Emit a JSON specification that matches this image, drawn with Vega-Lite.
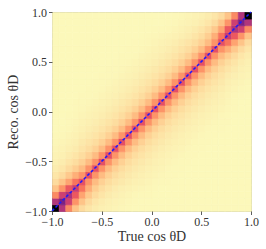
{
"$schema": "https://vega.github.io/schema/vega-lite/v6.json",
"width": 199, "height": 199,
"autosize": {"type": "none"},
"padding": {"left": 52, "top": 12, "right": 15, "bottom": 38},
"background": "white",
"config": {
 "view": {"stroke": "#9a9a9a", "strokeWidth": 1},
 "font": "Liberation Serif",
 "axis": {"domain": false, "grid": false, "tickColor": "#333", "tickSize": 3.5, "tickWidth": 0.8, "labelFont": "Liberation Serif", "labelFontSize": 12, "labelColor": "#333", "labelPadding": 2, "labelOverlap": false, "labelFlush": false, "labelBound": false, "titleFont": "Liberation Serif", "titleFontSize": 14, "titleFontWeight": "normal", "titleColor": "#333"}
},
"layer": [
{
"data": {"values": [
{"x":-1,"y":-1,"v":1},{"x":-0.9333,"y":-1,"v":0.46},{"x":-0.8667,"y":-1,"v":0.22},{"x":-0.8,"y":-1,"v":0.11},{"x":-0.7333,"y":-1,"v":0.065},{"x":-0.6667,"y":-1,"v":0.045},{"x":-0.6,"y":-1,"v":0.033},{"x":-0.5333,"y":-1,"v":0.025},{"x":-0.4667,"y":-1,"v":0.02},{"x":-0.4,"y":-1,"v":0.016},{"x":-0.3333,"y":-1,"v":0.013},{"x":-0.2667,"y":-1,"v":0.011},{"x":-0.2,"y":-1,"v":0.01},{"x":-0.1333,"y":-1,"v":0.01},{"x":-0.0667,"y":-1,"v":0.01},{"x":0,"y":-1,"v":0.01},{"x":0.0667,"y":-1,"v":0.01},{"x":0.1333,"y":-1,"v":0.01},{"x":0.2,"y":-1,"v":0.01},{"x":0.2667,"y":-1,"v":0.01},{"x":0.3333,"y":-1,"v":0.01},{"x":0.4,"y":-1,"v":0.01},{"x":0.4667,"y":-1,"v":0.01},{"x":0.5333,"y":-1,"v":0.01},{"x":0.6,"y":-1,"v":0.01},{"x":0.6667,"y":-1,"v":0.01},{"x":0.7333,"y":-1,"v":0.01},{"x":0.8,"y":-1,"v":0.01},{"x":0.8667,"y":-1,"v":0.01},{"x":0.9333,"y":-1,"v":0.01},
{"x":-1,"y":-0.9333,"v":0.46},{"x":-0.9333,"y":-0.9333,"v":0.58},{"x":-0.8667,"y":-0.9333,"v":0.4},{"x":-0.8,"y":-0.9333,"v":0.2},{"x":-0.7333,"y":-0.9333,"v":0.11},{"x":-0.6667,"y":-0.9333,"v":0.065},{"x":-0.6,"y":-0.9333,"v":0.045},{"x":-0.5333,"y":-0.9333,"v":0.033},{"x":-0.4667,"y":-0.9333,"v":0.025},{"x":-0.4,"y":-0.9333,"v":0.02},{"x":-0.3333,"y":-0.9333,"v":0.016},{"x":-0.2667,"y":-0.9333,"v":0.013},{"x":-0.2,"y":-0.9333,"v":0.011},{"x":-0.1333,"y":-0.9333,"v":0.01},{"x":-0.0667,"y":-0.9333,"v":0.01},{"x":0,"y":-0.9333,"v":0.01},{"x":0.0667,"y":-0.9333,"v":0.01},{"x":0.1333,"y":-0.9333,"v":0.01},{"x":0.2,"y":-0.9333,"v":0.01},{"x":0.2667,"y":-0.9333,"v":0.01},{"x":0.3333,"y":-0.9333,"v":0.01},{"x":0.4,"y":-0.9333,"v":0.01},{"x":0.4667,"y":-0.9333,"v":0.01},{"x":0.5333,"y":-0.9333,"v":0.01},{"x":0.6,"y":-0.9333,"v":0.01},{"x":0.6667,"y":-0.9333,"v":0.01},{"x":0.7333,"y":-0.9333,"v":0.01},{"x":0.8,"y":-0.9333,"v":0.01},{"x":0.8667,"y":-0.9333,"v":0.01},{"x":0.9333,"y":-0.9333,"v":0.01},
{"x":-1,"y":-0.8667,"v":0.22},{"x":-0.9333,"y":-0.8667,"v":0.4},{"x":-0.8667,"y":-0.8667,"v":0.47},{"x":-0.8,"y":-0.8667,"v":0.32},{"x":-0.7333,"y":-0.8667,"v":0.17},{"x":-0.6667,"y":-0.8667,"v":0.1},{"x":-0.6,"y":-0.8667,"v":0.065},{"x":-0.5333,"y":-0.8667,"v":0.046},{"x":-0.4667,"y":-0.8667,"v":0.034},{"x":-0.4,"y":-0.8667,"v":0.026},{"x":-0.3333,"y":-0.8667,"v":0.021},{"x":-0.2667,"y":-0.8667,"v":0.017},{"x":-0.2,"y":-0.8667,"v":0.014},{"x":-0.1333,"y":-0.8667,"v":0.012},{"x":-0.0667,"y":-0.8667,"v":0.011},{"x":0,"y":-0.8667,"v":0.01},{"x":0.0667,"y":-0.8667,"v":0.01},{"x":0.1333,"y":-0.8667,"v":0.01},{"x":0.2,"y":-0.8667,"v":0.01},{"x":0.2667,"y":-0.8667,"v":0.01},{"x":0.3333,"y":-0.8667,"v":0.01},{"x":0.4,"y":-0.8667,"v":0.01},{"x":0.4667,"y":-0.8667,"v":0.01},{"x":0.5333,"y":-0.8667,"v":0.01},{"x":0.6,"y":-0.8667,"v":0.01},{"x":0.6667,"y":-0.8667,"v":0.01},{"x":0.7333,"y":-0.8667,"v":0.01},{"x":0.8,"y":-0.8667,"v":0.01},{"x":0.8667,"y":-0.8667,"v":0.01},{"x":0.9333,"y":-0.8667,"v":0.01},
{"x":-1,"y":-0.8,"v":0.11},{"x":-0.9333,"y":-0.8,"v":0.2},{"x":-0.8667,"y":-0.8,"v":0.32},{"x":-0.8,"y":-0.8,"v":0.41},{"x":-0.7333,"y":-0.8,"v":0.26},{"x":-0.6667,"y":-0.8,"v":0.15},{"x":-0.6,"y":-0.8,"v":0.09},{"x":-0.5333,"y":-0.8,"v":0.062},{"x":-0.4667,"y":-0.8,"v":0.046},{"x":-0.4,"y":-0.8,"v":0.035},{"x":-0.3333,"y":-0.8,"v":0.027},{"x":-0.2667,"y":-0.8,"v":0.022},{"x":-0.2,"y":-0.8,"v":0.018},{"x":-0.1333,"y":-0.8,"v":0.015},{"x":-0.0667,"y":-0.8,"v":0.013},{"x":0,"y":-0.8,"v":0.011},{"x":0.0667,"y":-0.8,"v":0.01},{"x":0.1333,"y":-0.8,"v":0.01},{"x":0.2,"y":-0.8,"v":0.01},{"x":0.2667,"y":-0.8,"v":0.01},{"x":0.3333,"y":-0.8,"v":0.01},{"x":0.4,"y":-0.8,"v":0.01},{"x":0.4667,"y":-0.8,"v":0.01},{"x":0.5333,"y":-0.8,"v":0.01},{"x":0.6,"y":-0.8,"v":0.01},{"x":0.6667,"y":-0.8,"v":0.01},{"x":0.7333,"y":-0.8,"v":0.01},{"x":0.8,"y":-0.8,"v":0.01},{"x":0.8667,"y":-0.8,"v":0.01},{"x":0.9333,"y":-0.8,"v":0.01},
{"x":-1,"y":-0.7333,"v":0.065},{"x":-0.9333,"y":-0.7333,"v":0.11},{"x":-0.8667,"y":-0.7333,"v":0.17},{"x":-0.8,"y":-0.7333,"v":0.26},{"x":-0.7333,"y":-0.7333,"v":0.34},{"x":-0.6667,"y":-0.7333,"v":0.2},{"x":-0.6,"y":-0.7333,"v":0.125},{"x":-0.5333,"y":-0.7333,"v":0.085},{"x":-0.4667,"y":-0.7333,"v":0.062},{"x":-0.4,"y":-0.7333,"v":0.048},{"x":-0.3333,"y":-0.7333,"v":0.038},{"x":-0.2667,"y":-0.7333,"v":0.03},{"x":-0.2,"y":-0.7333,"v":0.024},{"x":-0.1333,"y":-0.7333,"v":0.02},{"x":-0.0667,"y":-0.7333,"v":0.017},{"x":0,"y":-0.7333,"v":0.014},{"x":0.0667,"y":-0.7333,"v":0.012},{"x":0.1333,"y":-0.7333,"v":0.011},{"x":0.2,"y":-0.7333,"v":0.01},{"x":0.2667,"y":-0.7333,"v":0.01},{"x":0.3333,"y":-0.7333,"v":0.01},{"x":0.4,"y":-0.7333,"v":0.01},{"x":0.4667,"y":-0.7333,"v":0.01},{"x":0.5333,"y":-0.7333,"v":0.01},{"x":0.6,"y":-0.7333,"v":0.01},{"x":0.6667,"y":-0.7333,"v":0.01},{"x":0.7333,"y":-0.7333,"v":0.01},{"x":0.8,"y":-0.7333,"v":0.01},{"x":0.8667,"y":-0.7333,"v":0.01},{"x":0.9333,"y":-0.7333,"v":0.01},
{"x":-1,"y":-0.6667,"v":0.045},{"x":-0.9333,"y":-0.6667,"v":0.065},{"x":-0.8667,"y":-0.6667,"v":0.1},{"x":-0.8,"y":-0.6667,"v":0.15},{"x":-0.7333,"y":-0.6667,"v":0.2},{"x":-0.6667,"y":-0.6667,"v":0.34},{"x":-0.6,"y":-0.6667,"v":0.2},{"x":-0.5333,"y":-0.6667,"v":0.125},{"x":-0.4667,"y":-0.6667,"v":0.085},{"x":-0.4,"y":-0.6667,"v":0.062},{"x":-0.3333,"y":-0.6667,"v":0.048},{"x":-0.2667,"y":-0.6667,"v":0.038},{"x":-0.2,"y":-0.6667,"v":0.03},{"x":-0.1333,"y":-0.6667,"v":0.024},{"x":-0.0667,"y":-0.6667,"v":0.02},{"x":0,"y":-0.6667,"v":0.017},{"x":0.0667,"y":-0.6667,"v":0.014},{"x":0.1333,"y":-0.6667,"v":0.012},{"x":0.2,"y":-0.6667,"v":0.011},{"x":0.2667,"y":-0.6667,"v":0.01},{"x":0.3333,"y":-0.6667,"v":0.01},{"x":0.4,"y":-0.6667,"v":0.01},{"x":0.4667,"y":-0.6667,"v":0.01},{"x":0.5333,"y":-0.6667,"v":0.01},{"x":0.6,"y":-0.6667,"v":0.01},{"x":0.6667,"y":-0.6667,"v":0.01},{"x":0.7333,"y":-0.6667,"v":0.01},{"x":0.8,"y":-0.6667,"v":0.01},{"x":0.8667,"y":-0.6667,"v":0.01},{"x":0.9333,"y":-0.6667,"v":0.01},
{"x":-1,"y":-0.6,"v":0.033},{"x":-0.9333,"y":-0.6,"v":0.045},{"x":-0.8667,"y":-0.6,"v":0.065},{"x":-0.8,"y":-0.6,"v":0.09},{"x":-0.7333,"y":-0.6,"v":0.125},{"x":-0.6667,"y":-0.6,"v":0.2},{"x":-0.6,"y":-0.6,"v":0.34},{"x":-0.5333,"y":-0.6,"v":0.2},{"x":-0.4667,"y":-0.6,"v":0.125},{"x":-0.4,"y":-0.6,"v":0.085},{"x":-0.3333,"y":-0.6,"v":0.062},{"x":-0.2667,"y":-0.6,"v":0.048},{"x":-0.2,"y":-0.6,"v":0.038},{"x":-0.1333,"y":-0.6,"v":0.03},{"x":-0.0667,"y":-0.6,"v":0.024},{"x":0,"y":-0.6,"v":0.02},{"x":0.0667,"y":-0.6,"v":0.017},{"x":0.1333,"y":-0.6,"v":0.014},{"x":0.2,"y":-0.6,"v":0.012},{"x":0.2667,"y":-0.6,"v":0.011},{"x":0.3333,"y":-0.6,"v":0.01},{"x":0.4,"y":-0.6,"v":0.01},{"x":0.4667,"y":-0.6,"v":0.01},{"x":0.5333,"y":-0.6,"v":0.01},{"x":0.6,"y":-0.6,"v":0.01},{"x":0.6667,"y":-0.6,"v":0.01},{"x":0.7333,"y":-0.6,"v":0.01},{"x":0.8,"y":-0.6,"v":0.01},{"x":0.8667,"y":-0.6,"v":0.01},{"x":0.9333,"y":-0.6,"v":0.01},
{"x":-1,"y":-0.5333,"v":0.025},{"x":-0.9333,"y":-0.5333,"v":0.033},{"x":-0.8667,"y":-0.5333,"v":0.046},{"x":-0.8,"y":-0.5333,"v":0.062},{"x":-0.7333,"y":-0.5333,"v":0.085},{"x":-0.6667,"y":-0.5333,"v":0.125},{"x":-0.6,"y":-0.5333,"v":0.2},{"x":-0.5333,"y":-0.5333,"v":0.34},{"x":-0.4667,"y":-0.5333,"v":0.2},{"x":-0.4,"y":-0.5333,"v":0.125},{"x":-0.3333,"y":-0.5333,"v":0.085},{"x":-0.2667,"y":-0.5333,"v":0.062},{"x":-0.2,"y":-0.5333,"v":0.048},{"x":-0.1333,"y":-0.5333,"v":0.038},{"x":-0.0667,"y":-0.5333,"v":0.03},{"x":0,"y":-0.5333,"v":0.024},{"x":0.0667,"y":-0.5333,"v":0.02},{"x":0.1333,"y":-0.5333,"v":0.017},{"x":0.2,"y":-0.5333,"v":0.014},{"x":0.2667,"y":-0.5333,"v":0.012},{"x":0.3333,"y":-0.5333,"v":0.011},{"x":0.4,"y":-0.5333,"v":0.01},{"x":0.4667,"y":-0.5333,"v":0.01},{"x":0.5333,"y":-0.5333,"v":0.01},{"x":0.6,"y":-0.5333,"v":0.01},{"x":0.6667,"y":-0.5333,"v":0.01},{"x":0.7333,"y":-0.5333,"v":0.01},{"x":0.8,"y":-0.5333,"v":0.01},{"x":0.8667,"y":-0.5333,"v":0.01},{"x":0.9333,"y":-0.5333,"v":0.01},
{"x":-1,"y":-0.4667,"v":0.02},{"x":-0.9333,"y":-0.4667,"v":0.025},{"x":-0.8667,"y":-0.4667,"v":0.034},{"x":-0.8,"y":-0.4667,"v":0.046},{"x":-0.7333,"y":-0.4667,"v":0.062},{"x":-0.6667,"y":-0.4667,"v":0.085},{"x":-0.6,"y":-0.4667,"v":0.125},{"x":-0.5333,"y":-0.4667,"v":0.2},{"x":-0.4667,"y":-0.4667,"v":0.34},{"x":-0.4,"y":-0.4667,"v":0.2},{"x":-0.3333,"y":-0.4667,"v":0.125},{"x":-0.2667,"y":-0.4667,"v":0.085},{"x":-0.2,"y":-0.4667,"v":0.062},{"x":-0.1333,"y":-0.4667,"v":0.048},{"x":-0.0667,"y":-0.4667,"v":0.038},{"x":0,"y":-0.4667,"v":0.03},{"x":0.0667,"y":-0.4667,"v":0.024},{"x":0.1333,"y":-0.4667,"v":0.02},{"x":0.2,"y":-0.4667,"v":0.017},{"x":0.2667,"y":-0.4667,"v":0.014},{"x":0.3333,"y":-0.4667,"v":0.012},{"x":0.4,"y":-0.4667,"v":0.011},{"x":0.4667,"y":-0.4667,"v":0.01},{"x":0.5333,"y":-0.4667,"v":0.01},{"x":0.6,"y":-0.4667,"v":0.01},{"x":0.6667,"y":-0.4667,"v":0.01},{"x":0.7333,"y":-0.4667,"v":0.01},{"x":0.8,"y":-0.4667,"v":0.01},{"x":0.8667,"y":-0.4667,"v":0.01},{"x":0.9333,"y":-0.4667,"v":0.01},
{"x":-1,"y":-0.4,"v":0.016},{"x":-0.9333,"y":-0.4,"v":0.02},{"x":-0.8667,"y":-0.4,"v":0.026},{"x":-0.8,"y":-0.4,"v":0.035},{"x":-0.7333,"y":-0.4,"v":0.048},{"x":-0.6667,"y":-0.4,"v":0.062},{"x":-0.6,"y":-0.4,"v":0.085},{"x":-0.5333,"y":-0.4,"v":0.125},{"x":-0.4667,"y":-0.4,"v":0.2},{"x":-0.4,"y":-0.4,"v":0.34},{"x":-0.3333,"y":-0.4,"v":0.2},{"x":-0.2667,"y":-0.4,"v":0.125},{"x":-0.2,"y":-0.4,"v":0.085},{"x":-0.1333,"y":-0.4,"v":0.062},{"x":-0.0667,"y":-0.4,"v":0.048},{"x":0,"y":-0.4,"v":0.038},{"x":0.0667,"y":-0.4,"v":0.03},{"x":0.1333,"y":-0.4,"v":0.024},{"x":0.2,"y":-0.4,"v":0.02},{"x":0.2667,"y":-0.4,"v":0.017},{"x":0.3333,"y":-0.4,"v":0.014},{"x":0.4,"y":-0.4,"v":0.012},{"x":0.4667,"y":-0.4,"v":0.011},{"x":0.5333,"y":-0.4,"v":0.01},{"x":0.6,"y":-0.4,"v":0.01},{"x":0.6667,"y":-0.4,"v":0.01},{"x":0.7333,"y":-0.4,"v":0.01},{"x":0.8,"y":-0.4,"v":0.01},{"x":0.8667,"y":-0.4,"v":0.01},{"x":0.9333,"y":-0.4,"v":0.01},
{"x":-1,"y":-0.3333,"v":0.013},{"x":-0.9333,"y":-0.3333,"v":0.016},{"x":-0.8667,"y":-0.3333,"v":0.021},{"x":-0.8,"y":-0.3333,"v":0.027},{"x":-0.7333,"y":-0.3333,"v":0.038},{"x":-0.6667,"y":-0.3333,"v":0.048},{"x":-0.6,"y":-0.3333,"v":0.062},{"x":-0.5333,"y":-0.3333,"v":0.085},{"x":-0.4667,"y":-0.3333,"v":0.125},{"x":-0.4,"y":-0.3333,"v":0.2},{"x":-0.3333,"y":-0.3333,"v":0.34},{"x":-0.2667,"y":-0.3333,"v":0.2},{"x":-0.2,"y":-0.3333,"v":0.125},{"x":-0.1333,"y":-0.3333,"v":0.085},{"x":-0.0667,"y":-0.3333,"v":0.062},{"x":0,"y":-0.3333,"v":0.048},{"x":0.0667,"y":-0.3333,"v":0.038},{"x":0.1333,"y":-0.3333,"v":0.03},{"x":0.2,"y":-0.3333,"v":0.024},{"x":0.2667,"y":-0.3333,"v":0.02},{"x":0.3333,"y":-0.3333,"v":0.017},{"x":0.4,"y":-0.3333,"v":0.014},{"x":0.4667,"y":-0.3333,"v":0.012},{"x":0.5333,"y":-0.3333,"v":0.011},{"x":0.6,"y":-0.3333,"v":0.01},{"x":0.6667,"y":-0.3333,"v":0.01},{"x":0.7333,"y":-0.3333,"v":0.01},{"x":0.8,"y":-0.3333,"v":0.01},{"x":0.8667,"y":-0.3333,"v":0.01},{"x":0.9333,"y":-0.3333,"v":0.01},
{"x":-1,"y":-0.2667,"v":0.011},{"x":-0.9333,"y":-0.2667,"v":0.013},{"x":-0.8667,"y":-0.2667,"v":0.017},{"x":-0.8,"y":-0.2667,"v":0.022},{"x":-0.7333,"y":-0.2667,"v":0.03},{"x":-0.6667,"y":-0.2667,"v":0.038},{"x":-0.6,"y":-0.2667,"v":0.048},{"x":-0.5333,"y":-0.2667,"v":0.062},{"x":-0.4667,"y":-0.2667,"v":0.085},{"x":-0.4,"y":-0.2667,"v":0.125},{"x":-0.3333,"y":-0.2667,"v":0.2},{"x":-0.2667,"y":-0.2667,"v":0.34},{"x":-0.2,"y":-0.2667,"v":0.2},{"x":-0.1333,"y":-0.2667,"v":0.125},{"x":-0.0667,"y":-0.2667,"v":0.085},{"x":0,"y":-0.2667,"v":0.062},{"x":0.0667,"y":-0.2667,"v":0.048},{"x":0.1333,"y":-0.2667,"v":0.038},{"x":0.2,"y":-0.2667,"v":0.03},{"x":0.2667,"y":-0.2667,"v":0.024},{"x":0.3333,"y":-0.2667,"v":0.02},{"x":0.4,"y":-0.2667,"v":0.017},{"x":0.4667,"y":-0.2667,"v":0.014},{"x":0.5333,"y":-0.2667,"v":0.012},{"x":0.6,"y":-0.2667,"v":0.011},{"x":0.6667,"y":-0.2667,"v":0.01},{"x":0.7333,"y":-0.2667,"v":0.01},{"x":0.8,"y":-0.2667,"v":0.01},{"x":0.8667,"y":-0.2667,"v":0.01},{"x":0.9333,"y":-0.2667,"v":0.01},
{"x":-1,"y":-0.2,"v":0.01},{"x":-0.9333,"y":-0.2,"v":0.011},{"x":-0.8667,"y":-0.2,"v":0.014},{"x":-0.8,"y":-0.2,"v":0.018},{"x":-0.7333,"y":-0.2,"v":0.024},{"x":-0.6667,"y":-0.2,"v":0.03},{"x":-0.6,"y":-0.2,"v":0.038},{"x":-0.5333,"y":-0.2,"v":0.048},{"x":-0.4667,"y":-0.2,"v":0.062},{"x":-0.4,"y":-0.2,"v":0.085},{"x":-0.3333,"y":-0.2,"v":0.125},{"x":-0.2667,"y":-0.2,"v":0.2},{"x":-0.2,"y":-0.2,"v":0.34},{"x":-0.1333,"y":-0.2,"v":0.2},{"x":-0.0667,"y":-0.2,"v":0.125},{"x":0,"y":-0.2,"v":0.085},{"x":0.0667,"y":-0.2,"v":0.062},{"x":0.1333,"y":-0.2,"v":0.048},{"x":0.2,"y":-0.2,"v":0.038},{"x":0.2667,"y":-0.2,"v":0.03},{"x":0.3333,"y":-0.2,"v":0.024},{"x":0.4,"y":-0.2,"v":0.02},{"x":0.4667,"y":-0.2,"v":0.017},{"x":0.5333,"y":-0.2,"v":0.014},{"x":0.6,"y":-0.2,"v":0.012},{"x":0.6667,"y":-0.2,"v":0.011},{"x":0.7333,"y":-0.2,"v":0.01},{"x":0.8,"y":-0.2,"v":0.01},{"x":0.8667,"y":-0.2,"v":0.01},{"x":0.9333,"y":-0.2,"v":0.01},
{"x":-1,"y":-0.1333,"v":0.01},{"x":-0.9333,"y":-0.1333,"v":0.01},{"x":-0.8667,"y":-0.1333,"v":0.012},{"x":-0.8,"y":-0.1333,"v":0.015},{"x":-0.7333,"y":-0.1333,"v":0.02},{"x":-0.6667,"y":-0.1333,"v":0.024},{"x":-0.6,"y":-0.1333,"v":0.03},{"x":-0.5333,"y":-0.1333,"v":0.038},{"x":-0.4667,"y":-0.1333,"v":0.048},{"x":-0.4,"y":-0.1333,"v":0.062},{"x":-0.3333,"y":-0.1333,"v":0.085},{"x":-0.2667,"y":-0.1333,"v":0.125},{"x":-0.2,"y":-0.1333,"v":0.2},{"x":-0.1333,"y":-0.1333,"v":0.34},{"x":-0.0667,"y":-0.1333,"v":0.2},{"x":0,"y":-0.1333,"v":0.125},{"x":0.0667,"y":-0.1333,"v":0.085},{"x":0.1333,"y":-0.1333,"v":0.062},{"x":0.2,"y":-0.1333,"v":0.048},{"x":0.2667,"y":-0.1333,"v":0.038},{"x":0.3333,"y":-0.1333,"v":0.03},{"x":0.4,"y":-0.1333,"v":0.024},{"x":0.4667,"y":-0.1333,"v":0.02},{"x":0.5333,"y":-0.1333,"v":0.017},{"x":0.6,"y":-0.1333,"v":0.014},{"x":0.6667,"y":-0.1333,"v":0.012},{"x":0.7333,"y":-0.1333,"v":0.011},{"x":0.8,"y":-0.1333,"v":0.01},{"x":0.8667,"y":-0.1333,"v":0.01},{"x":0.9333,"y":-0.1333,"v":0.01},
{"x":-1,"y":-0.0667,"v":0.01},{"x":-0.9333,"y":-0.0667,"v":0.01},{"x":-0.8667,"y":-0.0667,"v":0.011},{"x":-0.8,"y":-0.0667,"v":0.013},{"x":-0.7333,"y":-0.0667,"v":0.017},{"x":-0.6667,"y":-0.0667,"v":0.02},{"x":-0.6,"y":-0.0667,"v":0.024},{"x":-0.5333,"y":-0.0667,"v":0.03},{"x":-0.4667,"y":-0.0667,"v":0.038},{"x":-0.4,"y":-0.0667,"v":0.048},{"x":-0.3333,"y":-0.0667,"v":0.062},{"x":-0.2667,"y":-0.0667,"v":0.085},{"x":-0.2,"y":-0.0667,"v":0.125},{"x":-0.1333,"y":-0.0667,"v":0.2},{"x":-0.0667,"y":-0.0667,"v":0.34},{"x":0,"y":-0.0667,"v":0.2},{"x":0.0667,"y":-0.0667,"v":0.125},{"x":0.1333,"y":-0.0667,"v":0.085},{"x":0.2,"y":-0.0667,"v":0.062},{"x":0.2667,"y":-0.0667,"v":0.048},{"x":0.3333,"y":-0.0667,"v":0.038},{"x":0.4,"y":-0.0667,"v":0.03},{"x":0.4667,"y":-0.0667,"v":0.024},{"x":0.5333,"y":-0.0667,"v":0.02},{"x":0.6,"y":-0.0667,"v":0.017},{"x":0.6667,"y":-0.0667,"v":0.014},{"x":0.7333,"y":-0.0667,"v":0.011},{"x":0.8,"y":-0.0667,"v":0.01},{"x":0.8667,"y":-0.0667,"v":0.01},{"x":0.9333,"y":-0.0667,"v":0.01},
{"x":-1,"y":0,"v":0.01},{"x":-0.9333,"y":0,"v":0.01},{"x":-0.8667,"y":0,"v":0.01},{"x":-0.8,"y":0,"v":0.011},{"x":-0.7333,"y":0,"v":0.014},{"x":-0.6667,"y":0,"v":0.017},{"x":-0.6,"y":0,"v":0.02},{"x":-0.5333,"y":0,"v":0.024},{"x":-0.4667,"y":0,"v":0.03},{"x":-0.4,"y":0,"v":0.038},{"x":-0.3333,"y":0,"v":0.048},{"x":-0.2667,"y":0,"v":0.062},{"x":-0.2,"y":0,"v":0.085},{"x":-0.1333,"y":0,"v":0.125},{"x":-0.0667,"y":0,"v":0.2},{"x":0,"y":0,"v":0.34},{"x":0.0667,"y":0,"v":0.2},{"x":0.1333,"y":0,"v":0.125},{"x":0.2,"y":0,"v":0.085},{"x":0.2667,"y":0,"v":0.062},{"x":0.3333,"y":0,"v":0.048},{"x":0.4,"y":0,"v":0.038},{"x":0.4667,"y":0,"v":0.03},{"x":0.5333,"y":0,"v":0.024},{"x":0.6,"y":0,"v":0.02},{"x":0.6667,"y":0,"v":0.017},{"x":0.7333,"y":0,"v":0.013},{"x":0.8,"y":0,"v":0.011},{"x":0.8667,"y":0,"v":0.01},{"x":0.9333,"y":0,"v":0.01},
{"x":-1,"y":0.0667,"v":0.01},{"x":-0.9333,"y":0.0667,"v":0.01},{"x":-0.8667,"y":0.0667,"v":0.01},{"x":-0.8,"y":0.0667,"v":0.011},{"x":-0.7333,"y":0.0667,"v":0.012},{"x":-0.6667,"y":0.0667,"v":0.014},{"x":-0.6,"y":0.0667,"v":0.017},{"x":-0.5333,"y":0.0667,"v":0.02},{"x":-0.4667,"y":0.0667,"v":0.024},{"x":-0.4,"y":0.0667,"v":0.03},{"x":-0.3333,"y":0.0667,"v":0.038},{"x":-0.2667,"y":0.0667,"v":0.048},{"x":-0.2,"y":0.0667,"v":0.062},{"x":-0.1333,"y":0.0667,"v":0.085},{"x":-0.0667,"y":0.0667,"v":0.125},{"x":0,"y":0.0667,"v":0.2},{"x":0.0667,"y":0.0667,"v":0.34},{"x":0.1333,"y":0.0667,"v":0.2},{"x":0.2,"y":0.0667,"v":0.125},{"x":0.2667,"y":0.0667,"v":0.085},{"x":0.3333,"y":0.0667,"v":0.062},{"x":0.4,"y":0.0667,"v":0.048},{"x":0.4667,"y":0.0667,"v":0.038},{"x":0.5333,"y":0.0667,"v":0.03},{"x":0.6,"y":0.0667,"v":0.024},{"x":0.6667,"y":0.0667,"v":0.02},{"x":0.7333,"y":0.0667,"v":0.015},{"x":0.8,"y":0.0667,"v":0.012},{"x":0.8667,"y":0.0667,"v":0.01},{"x":0.9333,"y":0.0667,"v":0.01},
{"x":-1,"y":0.1333,"v":0.01},{"x":-0.9333,"y":0.1333,"v":0.01},{"x":-0.8667,"y":0.1333,"v":0.01},{"x":-0.8,"y":0.1333,"v":0.01},{"x":-0.7333,"y":0.1333,"v":0.011},{"x":-0.6667,"y":0.1333,"v":0.012},{"x":-0.6,"y":0.1333,"v":0.014},{"x":-0.5333,"y":0.1333,"v":0.017},{"x":-0.4667,"y":0.1333,"v":0.02},{"x":-0.4,"y":0.1333,"v":0.024},{"x":-0.3333,"y":0.1333,"v":0.03},{"x":-0.2667,"y":0.1333,"v":0.038},{"x":-0.2,"y":0.1333,"v":0.048},{"x":-0.1333,"y":0.1333,"v":0.062},{"x":-0.0667,"y":0.1333,"v":0.085},{"x":0,"y":0.1333,"v":0.125},{"x":0.0667,"y":0.1333,"v":0.2},{"x":0.1333,"y":0.1333,"v":0.34},{"x":0.2,"y":0.1333,"v":0.2},{"x":0.2667,"y":0.1333,"v":0.125},{"x":0.3333,"y":0.1333,"v":0.085},{"x":0.4,"y":0.1333,"v":0.062},{"x":0.4667,"y":0.1333,"v":0.048},{"x":0.5333,"y":0.1333,"v":0.038},{"x":0.6,"y":0.1333,"v":0.03},{"x":0.6667,"y":0.1333,"v":0.024},{"x":0.7333,"y":0.1333,"v":0.018},{"x":0.8,"y":0.1333,"v":0.014},{"x":0.8667,"y":0.1333,"v":0.011},{"x":0.9333,"y":0.1333,"v":0.01},
{"x":-1,"y":0.2,"v":0.01},{"x":-0.9333,"y":0.2,"v":0.01},{"x":-0.8667,"y":0.2,"v":0.01},{"x":-0.8,"y":0.2,"v":0.01},{"x":-0.7333,"y":0.2,"v":0.01},{"x":-0.6667,"y":0.2,"v":0.011},{"x":-0.6,"y":0.2,"v":0.012},{"x":-0.5333,"y":0.2,"v":0.014},{"x":-0.4667,"y":0.2,"v":0.017},{"x":-0.4,"y":0.2,"v":0.02},{"x":-0.3333,"y":0.2,"v":0.024},{"x":-0.2667,"y":0.2,"v":0.03},{"x":-0.2,"y":0.2,"v":0.038},{"x":-0.1333,"y":0.2,"v":0.048},{"x":-0.0667,"y":0.2,"v":0.062},{"x":0,"y":0.2,"v":0.085},{"x":0.0667,"y":0.2,"v":0.125},{"x":0.1333,"y":0.2,"v":0.2},{"x":0.2,"y":0.2,"v":0.34},{"x":0.2667,"y":0.2,"v":0.2},{"x":0.3333,"y":0.2,"v":0.125},{"x":0.4,"y":0.2,"v":0.085},{"x":0.4667,"y":0.2,"v":0.062},{"x":0.5333,"y":0.2,"v":0.048},{"x":0.6,"y":0.2,"v":0.038},{"x":0.6667,"y":0.2,"v":0.03},{"x":0.7333,"y":0.2,"v":0.022},{"x":0.8,"y":0.2,"v":0.017},{"x":0.8667,"y":0.2,"v":0.013},{"x":0.9333,"y":0.2,"v":0.011},
{"x":-1,"y":0.2667,"v":0.01},{"x":-0.9333,"y":0.2667,"v":0.01},{"x":-0.8667,"y":0.2667,"v":0.01},{"x":-0.8,"y":0.2667,"v":0.01},{"x":-0.7333,"y":0.2667,"v":0.01},{"x":-0.6667,"y":0.2667,"v":0.01},{"x":-0.6,"y":0.2667,"v":0.011},{"x":-0.5333,"y":0.2667,"v":0.012},{"x":-0.4667,"y":0.2667,"v":0.014},{"x":-0.4,"y":0.2667,"v":0.017},{"x":-0.3333,"y":0.2667,"v":0.02},{"x":-0.2667,"y":0.2667,"v":0.024},{"x":-0.2,"y":0.2667,"v":0.03},{"x":-0.1333,"y":0.2667,"v":0.038},{"x":-0.0667,"y":0.2667,"v":0.048},{"x":0,"y":0.2667,"v":0.062},{"x":0.0667,"y":0.2667,"v":0.085},{"x":0.1333,"y":0.2667,"v":0.125},{"x":0.2,"y":0.2667,"v":0.2},{"x":0.2667,"y":0.2667,"v":0.34},{"x":0.3333,"y":0.2667,"v":0.2},{"x":0.4,"y":0.2667,"v":0.125},{"x":0.4667,"y":0.2667,"v":0.085},{"x":0.5333,"y":0.2667,"v":0.062},{"x":0.6,"y":0.2667,"v":0.048},{"x":0.6667,"y":0.2667,"v":0.038},{"x":0.7333,"y":0.2667,"v":0.027},{"x":0.8,"y":0.2667,"v":0.021},{"x":0.8667,"y":0.2667,"v":0.016},{"x":0.9333,"y":0.2667,"v":0.013},
{"x":-1,"y":0.3333,"v":0.01},{"x":-0.9333,"y":0.3333,"v":0.01},{"x":-0.8667,"y":0.3333,"v":0.01},{"x":-0.8,"y":0.3333,"v":0.01},{"x":-0.7333,"y":0.3333,"v":0.01},{"x":-0.6667,"y":0.3333,"v":0.01},{"x":-0.6,"y":0.3333,"v":0.01},{"x":-0.5333,"y":0.3333,"v":0.011},{"x":-0.4667,"y":0.3333,"v":0.012},{"x":-0.4,"y":0.3333,"v":0.014},{"x":-0.3333,"y":0.3333,"v":0.017},{"x":-0.2667,"y":0.3333,"v":0.02},{"x":-0.2,"y":0.3333,"v":0.024},{"x":-0.1333,"y":0.3333,"v":0.03},{"x":-0.0667,"y":0.3333,"v":0.038},{"x":0,"y":0.3333,"v":0.048},{"x":0.0667,"y":0.3333,"v":0.062},{"x":0.1333,"y":0.3333,"v":0.085},{"x":0.2,"y":0.3333,"v":0.125},{"x":0.2667,"y":0.3333,"v":0.2},{"x":0.3333,"y":0.3333,"v":0.34},{"x":0.4,"y":0.3333,"v":0.2},{"x":0.4667,"y":0.3333,"v":0.125},{"x":0.5333,"y":0.3333,"v":0.085},{"x":0.6,"y":0.3333,"v":0.062},{"x":0.6667,"y":0.3333,"v":0.048},{"x":0.7333,"y":0.3333,"v":0.035},{"x":0.8,"y":0.3333,"v":0.026},{"x":0.8667,"y":0.3333,"v":0.02},{"x":0.9333,"y":0.3333,"v":0.016},
{"x":-1,"y":0.4,"v":0.01},{"x":-0.9333,"y":0.4,"v":0.01},{"x":-0.8667,"y":0.4,"v":0.01},{"x":-0.8,"y":0.4,"v":0.01},{"x":-0.7333,"y":0.4,"v":0.01},{"x":-0.6667,"y":0.4,"v":0.01},{"x":-0.6,"y":0.4,"v":0.01},{"x":-0.5333,"y":0.4,"v":0.01},{"x":-0.4667,"y":0.4,"v":0.011},{"x":-0.4,"y":0.4,"v":0.012},{"x":-0.3333,"y":0.4,"v":0.014},{"x":-0.2667,"y":0.4,"v":0.017},{"x":-0.2,"y":0.4,"v":0.02},{"x":-0.1333,"y":0.4,"v":0.024},{"x":-0.0667,"y":0.4,"v":0.03},{"x":0,"y":0.4,"v":0.038},{"x":0.0667,"y":0.4,"v":0.048},{"x":0.1333,"y":0.4,"v":0.062},{"x":0.2,"y":0.4,"v":0.085},{"x":0.2667,"y":0.4,"v":0.125},{"x":0.3333,"y":0.4,"v":0.2},{"x":0.4,"y":0.4,"v":0.34},{"x":0.4667,"y":0.4,"v":0.2},{"x":0.5333,"y":0.4,"v":0.125},{"x":0.6,"y":0.4,"v":0.085},{"x":0.6667,"y":0.4,"v":0.062},{"x":0.7333,"y":0.4,"v":0.046},{"x":0.8,"y":0.4,"v":0.034},{"x":0.8667,"y":0.4,"v":0.025},{"x":0.9333,"y":0.4,"v":0.02},
{"x":-1,"y":0.4667,"v":0.01},{"x":-0.9333,"y":0.4667,"v":0.01},{"x":-0.8667,"y":0.4667,"v":0.01},{"x":-0.8,"y":0.4667,"v":0.01},{"x":-0.7333,"y":0.4667,"v":0.01},{"x":-0.6667,"y":0.4667,"v":0.01},{"x":-0.6,"y":0.4667,"v":0.01},{"x":-0.5333,"y":0.4667,"v":0.01},{"x":-0.4667,"y":0.4667,"v":0.01},{"x":-0.4,"y":0.4667,"v":0.011},{"x":-0.3333,"y":0.4667,"v":0.012},{"x":-0.2667,"y":0.4667,"v":0.014},{"x":-0.2,"y":0.4667,"v":0.017},{"x":-0.1333,"y":0.4667,"v":0.02},{"x":-0.0667,"y":0.4667,"v":0.024},{"x":0,"y":0.4667,"v":0.03},{"x":0.0667,"y":0.4667,"v":0.038},{"x":0.1333,"y":0.4667,"v":0.048},{"x":0.2,"y":0.4667,"v":0.062},{"x":0.2667,"y":0.4667,"v":0.085},{"x":0.3333,"y":0.4667,"v":0.125},{"x":0.4,"y":0.4667,"v":0.2},{"x":0.4667,"y":0.4667,"v":0.34},{"x":0.5333,"y":0.4667,"v":0.2},{"x":0.6,"y":0.4667,"v":0.125},{"x":0.6667,"y":0.4667,"v":0.085},{"x":0.7333,"y":0.4667,"v":0.062},{"x":0.8,"y":0.4667,"v":0.046},{"x":0.8667,"y":0.4667,"v":0.033},{"x":0.9333,"y":0.4667,"v":0.025},
{"x":-1,"y":0.5333,"v":0.01},{"x":-0.9333,"y":0.5333,"v":0.01},{"x":-0.8667,"y":0.5333,"v":0.01},{"x":-0.8,"y":0.5333,"v":0.01},{"x":-0.7333,"y":0.5333,"v":0.01},{"x":-0.6667,"y":0.5333,"v":0.01},{"x":-0.6,"y":0.5333,"v":0.01},{"x":-0.5333,"y":0.5333,"v":0.01},{"x":-0.4667,"y":0.5333,"v":0.01},{"x":-0.4,"y":0.5333,"v":0.01},{"x":-0.3333,"y":0.5333,"v":0.011},{"x":-0.2667,"y":0.5333,"v":0.012},{"x":-0.2,"y":0.5333,"v":0.014},{"x":-0.1333,"y":0.5333,"v":0.017},{"x":-0.0667,"y":0.5333,"v":0.02},{"x":0,"y":0.5333,"v":0.024},{"x":0.0667,"y":0.5333,"v":0.03},{"x":0.1333,"y":0.5333,"v":0.038},{"x":0.2,"y":0.5333,"v":0.048},{"x":0.2667,"y":0.5333,"v":0.062},{"x":0.3333,"y":0.5333,"v":0.085},{"x":0.4,"y":0.5333,"v":0.125},{"x":0.4667,"y":0.5333,"v":0.2},{"x":0.5333,"y":0.5333,"v":0.34},{"x":0.6,"y":0.5333,"v":0.2},{"x":0.6667,"y":0.5333,"v":0.125},{"x":0.7333,"y":0.5333,"v":0.09},{"x":0.8,"y":0.5333,"v":0.065},{"x":0.8667,"y":0.5333,"v":0.045},{"x":0.9333,"y":0.5333,"v":0.033},
{"x":-1,"y":0.6,"v":0.01},{"x":-0.9333,"y":0.6,"v":0.01},{"x":-0.8667,"y":0.6,"v":0.01},{"x":-0.8,"y":0.6,"v":0.01},{"x":-0.7333,"y":0.6,"v":0.01},{"x":-0.6667,"y":0.6,"v":0.01},{"x":-0.6,"y":0.6,"v":0.01},{"x":-0.5333,"y":0.6,"v":0.01},{"x":-0.4667,"y":0.6,"v":0.01},{"x":-0.4,"y":0.6,"v":0.01},{"x":-0.3333,"y":0.6,"v":0.01},{"x":-0.2667,"y":0.6,"v":0.011},{"x":-0.2,"y":0.6,"v":0.012},{"x":-0.1333,"y":0.6,"v":0.014},{"x":-0.0667,"y":0.6,"v":0.017},{"x":0,"y":0.6,"v":0.02},{"x":0.0667,"y":0.6,"v":0.024},{"x":0.1333,"y":0.6,"v":0.03},{"x":0.2,"y":0.6,"v":0.038},{"x":0.2667,"y":0.6,"v":0.048},{"x":0.3333,"y":0.6,"v":0.062},{"x":0.4,"y":0.6,"v":0.085},{"x":0.4667,"y":0.6,"v":0.125},{"x":0.5333,"y":0.6,"v":0.2},{"x":0.6,"y":0.6,"v":0.34},{"x":0.6667,"y":0.6,"v":0.2},{"x":0.7333,"y":0.6,"v":0.15},{"x":0.8,"y":0.6,"v":0.1},{"x":0.8667,"y":0.6,"v":0.065},{"x":0.9333,"y":0.6,"v":0.045},
{"x":-1,"y":0.6667,"v":0.01},{"x":-0.9333,"y":0.6667,"v":0.01},{"x":-0.8667,"y":0.6667,"v":0.01},{"x":-0.8,"y":0.6667,"v":0.01},{"x":-0.7333,"y":0.6667,"v":0.01},{"x":-0.6667,"y":0.6667,"v":0.01},{"x":-0.6,"y":0.6667,"v":0.01},{"x":-0.5333,"y":0.6667,"v":0.01},{"x":-0.4667,"y":0.6667,"v":0.01},{"x":-0.4,"y":0.6667,"v":0.01},{"x":-0.3333,"y":0.6667,"v":0.01},{"x":-0.2667,"y":0.6667,"v":0.01},{"x":-0.2,"y":0.6667,"v":0.011},{"x":-0.1333,"y":0.6667,"v":0.012},{"x":-0.0667,"y":0.6667,"v":0.014},{"x":0,"y":0.6667,"v":0.017},{"x":0.0667,"y":0.6667,"v":0.02},{"x":0.1333,"y":0.6667,"v":0.024},{"x":0.2,"y":0.6667,"v":0.03},{"x":0.2667,"y":0.6667,"v":0.038},{"x":0.3333,"y":0.6667,"v":0.048},{"x":0.4,"y":0.6667,"v":0.062},{"x":0.4667,"y":0.6667,"v":0.085},{"x":0.5333,"y":0.6667,"v":0.125},{"x":0.6,"y":0.6667,"v":0.2},{"x":0.6667,"y":0.6667,"v":0.34},{"x":0.7333,"y":0.6667,"v":0.26},{"x":0.8,"y":0.6667,"v":0.17},{"x":0.8667,"y":0.6667,"v":0.11},{"x":0.9333,"y":0.6667,"v":0.065},
{"x":-1,"y":0.7333,"v":0.01},{"x":-0.9333,"y":0.7333,"v":0.01},{"x":-0.8667,"y":0.7333,"v":0.01},{"x":-0.8,"y":0.7333,"v":0.01},{"x":-0.7333,"y":0.7333,"v":0.01},{"x":-0.6667,"y":0.7333,"v":0.01},{"x":-0.6,"y":0.7333,"v":0.01},{"x":-0.5333,"y":0.7333,"v":0.01},{"x":-0.4667,"y":0.7333,"v":0.01},{"x":-0.4,"y":0.7333,"v":0.01},{"x":-0.3333,"y":0.7333,"v":0.01},{"x":-0.2667,"y":0.7333,"v":0.01},{"x":-0.2,"y":0.7333,"v":0.01},{"x":-0.1333,"y":0.7333,"v":0.01},{"x":-0.0667,"y":0.7333,"v":0.011},{"x":0,"y":0.7333,"v":0.013},{"x":0.0667,"y":0.7333,"v":0.015},{"x":0.1333,"y":0.7333,"v":0.018},{"x":0.2,"y":0.7333,"v":0.022},{"x":0.2667,"y":0.7333,"v":0.027},{"x":0.3333,"y":0.7333,"v":0.035},{"x":0.4,"y":0.7333,"v":0.046},{"x":0.4667,"y":0.7333,"v":0.062},{"x":0.5333,"y":0.7333,"v":0.09},{"x":0.6,"y":0.7333,"v":0.15},{"x":0.6667,"y":0.7333,"v":0.26},{"x":0.7333,"y":0.7333,"v":0.41},{"x":0.8,"y":0.7333,"v":0.32},{"x":0.8667,"y":0.7333,"v":0.2},{"x":0.9333,"y":0.7333,"v":0.11},
{"x":-1,"y":0.8,"v":0.01},{"x":-0.9333,"y":0.8,"v":0.01},{"x":-0.8667,"y":0.8,"v":0.01},{"x":-0.8,"y":0.8,"v":0.01},{"x":-0.7333,"y":0.8,"v":0.01},{"x":-0.6667,"y":0.8,"v":0.01},{"x":-0.6,"y":0.8,"v":0.01},{"x":-0.5333,"y":0.8,"v":0.01},{"x":-0.4667,"y":0.8,"v":0.01},{"x":-0.4,"y":0.8,"v":0.01},{"x":-0.3333,"y":0.8,"v":0.01},{"x":-0.2667,"y":0.8,"v":0.01},{"x":-0.2,"y":0.8,"v":0.01},{"x":-0.1333,"y":0.8,"v":0.01},{"x":-0.0667,"y":0.8,"v":0.01},{"x":0,"y":0.8,"v":0.011},{"x":0.0667,"y":0.8,"v":0.012},{"x":0.1333,"y":0.8,"v":0.014},{"x":0.2,"y":0.8,"v":0.017},{"x":0.2667,"y":0.8,"v":0.021},{"x":0.3333,"y":0.8,"v":0.026},{"x":0.4,"y":0.8,"v":0.034},{"x":0.4667,"y":0.8,"v":0.046},{"x":0.5333,"y":0.8,"v":0.065},{"x":0.6,"y":0.8,"v":0.1},{"x":0.6667,"y":0.8,"v":0.17},{"x":0.7333,"y":0.8,"v":0.32},{"x":0.8,"y":0.8,"v":0.47},{"x":0.8667,"y":0.8,"v":0.4},{"x":0.9333,"y":0.8,"v":0.22},
{"x":-1,"y":0.8667,"v":0.01},{"x":-0.9333,"y":0.8667,"v":0.01},{"x":-0.8667,"y":0.8667,"v":0.01},{"x":-0.8,"y":0.8667,"v":0.01},{"x":-0.7333,"y":0.8667,"v":0.01},{"x":-0.6667,"y":0.8667,"v":0.01},{"x":-0.6,"y":0.8667,"v":0.01},{"x":-0.5333,"y":0.8667,"v":0.01},{"x":-0.4667,"y":0.8667,"v":0.01},{"x":-0.4,"y":0.8667,"v":0.01},{"x":-0.3333,"y":0.8667,"v":0.01},{"x":-0.2667,"y":0.8667,"v":0.01},{"x":-0.2,"y":0.8667,"v":0.01},{"x":-0.1333,"y":0.8667,"v":0.01},{"x":-0.0667,"y":0.8667,"v":0.01},{"x":0,"y":0.8667,"v":0.01},{"x":0.0667,"y":0.8667,"v":0.01},{"x":0.1333,"y":0.8667,"v":0.011},{"x":0.2,"y":0.8667,"v":0.013},{"x":0.2667,"y":0.8667,"v":0.016},{"x":0.3333,"y":0.8667,"v":0.02},{"x":0.4,"y":0.8667,"v":0.025},{"x":0.4667,"y":0.8667,"v":0.033},{"x":0.5333,"y":0.8667,"v":0.045},{"x":0.6,"y":0.8667,"v":0.065},{"x":0.6667,"y":0.8667,"v":0.11},{"x":0.7333,"y":0.8667,"v":0.2},{"x":0.8,"y":0.8667,"v":0.4},{"x":0.8667,"y":0.8667,"v":0.58},{"x":0.9333,"y":0.8667,"v":0.46},
{"x":-1,"y":0.9333,"v":0.01},{"x":-0.9333,"y":0.9333,"v":0.01},{"x":-0.8667,"y":0.9333,"v":0.01},{"x":-0.8,"y":0.9333,"v":0.01},{"x":-0.7333,"y":0.9333,"v":0.01},{"x":-0.6667,"y":0.9333,"v":0.01},{"x":-0.6,"y":0.9333,"v":0.01},{"x":-0.5333,"y":0.9333,"v":0.01},{"x":-0.4667,"y":0.9333,"v":0.01},{"x":-0.4,"y":0.9333,"v":0.01},{"x":-0.3333,"y":0.9333,"v":0.01},{"x":-0.2667,"y":0.9333,"v":0.01},{"x":-0.2,"y":0.9333,"v":0.01},{"x":-0.1333,"y":0.9333,"v":0.01},{"x":-0.0667,"y":0.9333,"v":0.01},{"x":0,"y":0.9333,"v":0.01},{"x":0.0667,"y":0.9333,"v":0.01},{"x":0.1333,"y":0.9333,"v":0.01},{"x":0.2,"y":0.9333,"v":0.011},{"x":0.2667,"y":0.9333,"v":0.013},{"x":0.3333,"y":0.9333,"v":0.016},{"x":0.4,"y":0.9333,"v":0.02},{"x":0.4667,"y":0.9333,"v":0.025},{"x":0.5333,"y":0.9333,"v":0.033},{"x":0.6,"y":0.9333,"v":0.045},{"x":0.6667,"y":0.9333,"v":0.065},{"x":0.7333,"y":0.9333,"v":0.11},{"x":0.8,"y":0.9333,"v":0.22},{"x":0.8667,"y":0.9333,"v":0.46},{"x":0.9333,"y":0.9333,"v":1}
]},
"mark": {"type": "rect", "strokeWidth": 0.6},
"encoding": {
 "x": {"field": "x", "type": "quantitative", "bin": {"binned": true, "step": 0.0666667}, "scale": {"domain": [-1, 1], "nice": false, "zero": false}, "axis": {"title": "True cos θD", "titlePadding": 2, "values": [-1, -0.5, 0, 0.5, 1], "format": ".1f"}},
 "y": {"field": "y", "type": "quantitative", "bin": {"binned": true, "step": 0.0666667}, "scale": {"domain": [-1, 1], "nice": false, "zero": false}, "axis": {"title": "Reco. cos θD", "titlePadding": 4, "values": [-1, -0.5, 0, 0.5, 1], "format": ".1f"}},
 "color": {"field": "v", "type": "quantitative", "scale": {"scheme": "magma", "reverse": true, "domain": [0, 0.9], "clamp": true}, "legend": null},
 "stroke": {"field": "v", "type": "quantitative", "scale": {"scheme": "magma", "reverse": true, "domain": [0, 0.9], "clamp": true}, "legend": null}
}
},
{
"data": {"values": [{"x": -1, "y": -1}, {"x": 1, "y": 1}]},
"mark": {"type": "line", "color": "#1a1aff", "strokeDash": [3, 2], "strokeWidth": 1.5},
"encoding": {
 "x": {"field": "x", "type": "quantitative"},
 "y": {"field": "y", "type": "quantitative"}
}
}
]
}
